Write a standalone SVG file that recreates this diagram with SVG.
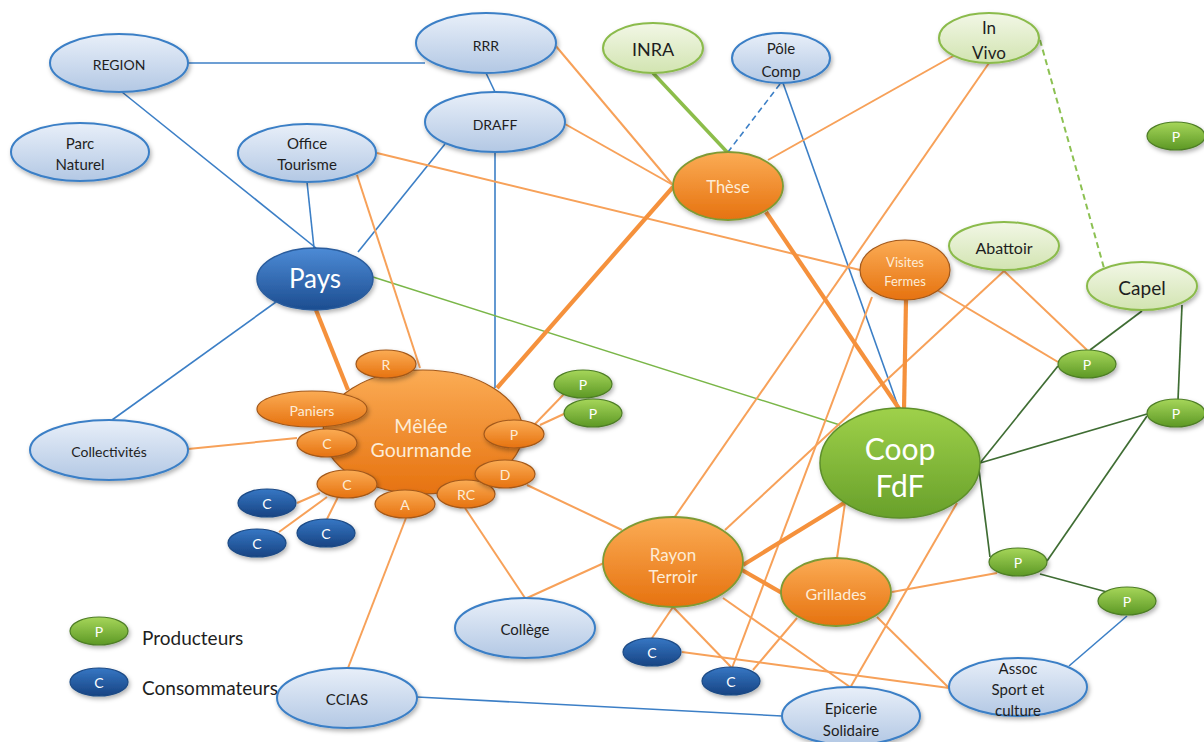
<svg xmlns="http://www.w3.org/2000/svg" width="1204" height="742" viewBox="0 0 1204 742">
<defs>
<linearGradient id="gBL" x1="0" y1="0" x2="0" y2="1"><stop offset="0" stop-color="#e8eff9"/><stop offset="1" stop-color="#b3c8e4"/></linearGradient>
<linearGradient id="gPays" x1="0" y1="0" x2="0" y2="1"><stop offset="0" stop-color="#4d8bd6"/><stop offset="1" stop-color="#1c4d90"/></linearGradient>
<linearGradient id="gC" x1="0" y1="0" x2="0" y2="1"><stop offset="0" stop-color="#3677c4"/><stop offset="1" stop-color="#174382"/></linearGradient>
<linearGradient id="gGL" x1="0" y1="0" x2="0" y2="1"><stop offset="0" stop-color="#f2f7e6"/><stop offset="1" stop-color="#d2e4b1"/></linearGradient>
<linearGradient id="gP" x1="0" y1="0" x2="0" y2="1"><stop offset="0" stop-color="#a6d65a"/><stop offset="1" stop-color="#5c9824"/></linearGradient>
<linearGradient id="gCoop" x1="0" y1="0" x2="0" y2="1"><stop offset="0" stop-color="#9fd14a"/><stop offset="1" stop-color="#68a02a"/></linearGradient>
<linearGradient id="gO" x1="0" y1="0" x2="0" y2="1"><stop offset="0" stop-color="#fbac55"/><stop offset="1" stop-color="#e6720f"/></linearGradient>
<filter id="sh" x="-20%" y="-20%" width="140%" height="150%"><feDropShadow dx="1.5" dy="2.5" stdDeviation="2" flood-color="#000" flood-opacity="0.3"/></filter>
<style>
text{font-family:Lato,"Open Sans","Liberation Sans",sans-serif;text-anchor:middle;dominant-baseline:central}
.bl{fill:url(#gBL);stroke:#3b7fc6;stroke-width:2;filter:url(#sh)}
.gl{fill:url(#gGL);stroke:#8bbb4c;stroke-width:2;filter:url(#sh)}
.pays{fill:url(#gPays);stroke:#2a5c9c;stroke-width:1.5;filter:url(#sh)}
.c{fill:url(#gC);stroke:#1c4a85;stroke-width:1.2;filter:url(#sh)}
.p{fill:url(#gP);stroke:#4d7d26;stroke-width:1.2;filter:url(#sh)}
.coop{fill:url(#gCoop);stroke:#5d8f2b;stroke-width:1.5;filter:url(#sh)}
.o{fill:url(#gO);stroke:#a2581a;stroke-width:1.2;filter:url(#sh)}
.og{fill:url(#gO);stroke:#7e9a34;stroke-width:1.8;filter:url(#sh)}
.dk{fill:#1e1e1e}
.wt{fill:#ffffff}
.cr{fill:#fdecd6}
.lb{stroke:#3c7fc6;stroke-width:1.6;fill:none}
.lo{stroke:#f7a159;stroke-width:2;fill:none}
.loT{stroke:#f5913c;stroke-width:4.2;fill:none}
.ldg{stroke:#3f6d33;stroke-width:1.7;fill:none}
</style>
</defs>
<rect width="1204" height="742" fill="#ffffff"/>

<g id="connectors">
<path class="lb" d="M188,63 L425,63"/>
<path class="lb" d="M122,92 L316,248"/>
<path class="lb" d="M307,182 L314,248"/>
<path class="lb" d="M445,144 L358,252"/>
<path class="lb" d="M486,73 L495,92"/>
<path class="lb" d="M495,152 L495,388"/>
<path class="lb" d="M276,302 L112,420"/>
<path class="lb" d="M783,83 L899,409"/>
<path class="lb" d="M417,697 L782,716"/>
<path class="lb" d="M1069,666 L1127,616"/>
<path class="lb" d="M780,84 L728,152" stroke-dasharray="6,4"/>
<path d="M653,73 L727,152" stroke="#8cbd4a" stroke-width="3.5" fill="none"/>
<path d="M373,277 L840,425" stroke="#7ab648" stroke-width="1.5" fill="none"/>
<path d="M1040,40 L1104,268" stroke="#8cc152" stroke-width="2" stroke-dasharray="6,4" fill="none"/>
<path class="ldg" d="M1142,311 L1090,350"/>
<path class="ldg" d="M1182,305 L1178,400"/>
<path class="ldg" d="M980,463 L1058,366"/>
<path class="ldg" d="M980,463 L1147,414"/>
<path class="ldg" d="M979,470 L990,557"/>
<path class="ldg" d="M1147,416 L1047,561"/>
<path class="ldg" d="M1040,574 L1107,592"/>
<path class="lo" d="M555,45 L673,185"/>
<path class="lo" d="M565,124 L673,185"/>
<path class="lo" d="M377,153 L860,270"/>
<path class="lo" d="M357,175 L420,368"/>
<path class="lo" d="M768,160 L955,55"/>
<path class="lo" d="M989,63 L674,518"/>
<path class="lo" d="M937,290 L1058,362"/>
<path class="lo" d="M1004,271 L1087,350"/>
<path class="lo" d="M1004,271 L725,530"/>
<path class="lo" d="M872,297 L732,668"/>
<path class="lo" d="M845,503 L837,558"/>
<path class="lo" d="M957,503 L850,688"/>
<path class="lo" d="M892,592 L997,573"/>
<path class="lo" d="M877,617 L949,688"/>
<path class="lo" d="M723,598 L850,687"/>
<path class="lo" d="M682,652 L949,688"/>
<path class="lo" d="M673,607 L652,638"/>
<path class="lo" d="M673,607 L731,667"/>
<path class="lo" d="M797,618 L753,670"/>
<path class="lo" d="M527,485 L622,530"/>
<path class="lo" d="M465,508 L525,598"/>
<path class="lo" d="M527,598 L604,563"/>
<path class="lo" d="M406,518 L348,668"/>
<path class="lo" d="M188,449 L297,438"/>
<path class="lo" d="M297,503 L320,493"/>
<path class="lo" d="M279,532 L327,497"/>
<path class="lo" d="M327,519 L338,497"/>
<path class="lo" d="M535,424 L564,394"/>
<path class="lo" d="M540,425 L566,413"/>
<path class="loT" d="M316,310 L348,390"/>
<path class="loT" d="M497,388 L673,187"/>
<path class="loT" d="M766,212 L900,410"/>
<path class="loT" d="M906,300 L904,410"/>
<path class="loT" d="M743,565 L844,503"/>
<path class="loT" d="M742,570 L782,593" stroke-width="3.5"/>
</g>

<g id="legend">
<g id="legend-p"><ellipse class="p" cx="99" cy="631" rx="29" ry="14"/><text class="wt" x="99" y="631" font-size="14">P</text></g>
<text class="dk" x="142" y="637" font-size="19" style="text-anchor:start">Producteurs</text>
<g id="legend-c"><ellipse class="c" cx="99" cy="682" rx="29" ry="14"/><text class="wt" x="99" y="682" font-size="14">C</text></g>
<text class="dk" x="142" y="687" font-size="19" style="text-anchor:start">Consommateurs</text>
</g>

<g id="region"><ellipse class="bl" cx="119" cy="63" rx="69" ry="29"/><text class="dk" x="119" y="64" font-size="14">REGION</text></g>
<g id="rrr"><ellipse class="bl" cx="486" cy="43" rx="70" ry="30"/><text class="dk" x="486" y="45" font-size="14">RRR</text></g>
<g id="draff"><ellipse class="bl" cx="495" cy="122" rx="70" ry="30"/><text class="dk" x="495" y="124" font-size="14">DRAFF</text></g>
<g id="parc"><ellipse class="bl" cx="80" cy="152" rx="69" ry="29"/><text class="dk" x="80" y="143" font-size="15">Parc</text><text class="dk" x="80" y="164" font-size="15">Naturel</text></g>
<g id="office"><ellipse class="bl" cx="307" cy="153" rx="69" ry="29"/><text class="dk" x="307" y="143" font-size="15">Office</text><text class="dk" x="307" y="164" font-size="15">Tourisme</text></g>
<g id="pole"><ellipse class="bl" cx="781" cy="58" rx="49" ry="25"/><text class="dk" x="781" y="48" font-size="15">Pôle</text><text class="dk" x="781" y="71" font-size="15">Comp</text></g>
<g id="collectivites"><ellipse class="bl" cx="109" cy="450" rx="79" ry="30"/><text class="dk" x="109" y="451" font-size="14">Collectivités</text></g>
<g id="college"><ellipse class="bl" cx="525" cy="628" rx="70" ry="30"/><text class="dk" x="525" y="629" font-size="15">Collège</text></g>
<g id="ccias"><ellipse class="bl" cx="347" cy="698" rx="70" ry="30"/><text class="dk" x="347" y="699" font-size="15">CCIAS</text></g>
<g id="epicerie"><ellipse class="bl" cx="851" cy="716" rx="69" ry="29"/><text class="dk" x="851" y="708" font-size="15">Epicerie</text><text class="dk" x="851" y="730" font-size="15">Solidaire</text></g>
<g id="assoc"><ellipse class="bl" cx="1018" cy="687" rx="69" ry="29"/><text class="dk" x="1018" y="668" font-size="15">Assoc</text><text class="dk" x="1018" y="689" font-size="15">Sport et</text><text class="dk" x="1018" y="710" font-size="15">culture</text></g>

<g id="inra"><ellipse class="gl" cx="653" cy="48" rx="50" ry="25"/><text class="dk" x="653" y="49" font-size="18">INRA</text></g>
<g id="invivo"><ellipse class="gl" cx="989" cy="38" rx="50" ry="25"/><text class="dk" x="989" y="27" font-size="17">In</text><text class="dk" x="989" y="52" font-size="17">Vivo</text></g>
<g id="abattoir"><ellipse class="gl" cx="1004" cy="246" rx="55" ry="24"/><text class="dk" x="1004" y="247" font-size="16">Abattoir</text></g>
<g id="capel"><ellipse class="gl" cx="1142" cy="286" rx="55" ry="24"/><text class="dk" x="1142" y="287" font-size="19">Capel</text></g>

<g id="pays"><ellipse class="pays" cx="315" cy="279" rx="58" ry="31"/><text class="wt" x="315" y="278" font-size="26">Pays</text></g>

<g id="these"><ellipse class="og" cx="728" cy="186" rx="55" ry="34"/><text class="cr" x="728" y="187" font-size="16.5">Thèse</text></g>
<g id="visites"><ellipse class="o" cx="905" cy="270" rx="45" ry="30"/><text class="cr" x="905" y="262" font-size="13">Visites</text><text class="cr" x="905" y="281" font-size="13">Fermes</text></g>

<g id="melee">
<ellipse class="o" cx="423" cy="432" rx="100" ry="62"/>
<text class="cr" x="421" y="425" font-size="19.5">Mêlée</text>
<text class="cr" x="421" y="449" font-size="19.5">Gourmande</text>
</g>
<g id="melee-r"><ellipse class="o" cx="386" cy="364" rx="30" ry="14"/><text class="cr" x="386" y="364" font-size="14">R</text></g>
<g id="melee-paniers"><ellipse class="o" cx="312" cy="409" rx="55" ry="18"/><text class="cr" x="312" y="410" font-size="14">Paniers</text></g>
<g id="melee-c1"><ellipse class="o" cx="327" cy="443" rx="30" ry="14"/><text class="cr" x="327" y="443" font-size="14">C</text></g>
<g id="melee-c2"><ellipse class="o" cx="347" cy="484" rx="30" ry="14"/><text class="cr" x="347" y="484" font-size="14">C</text></g>
<g id="melee-a"><ellipse class="o" cx="405" cy="504" rx="30" ry="14"/><text class="cr" x="405" y="504" font-size="14">A</text></g>
<g id="melee-rc"><ellipse class="o" cx="466" cy="494" rx="29" ry="14"/><text class="cr" x="466" y="494" font-size="14">RC</text></g>
<g id="melee-d"><ellipse class="o" cx="505" cy="474" rx="30" ry="14"/><text class="cr" x="505" y="474" font-size="14">D</text></g>
<g id="melee-p"><ellipse class="o" cx="514" cy="434" rx="30" ry="14"/><text class="cr" x="514" y="434" font-size="14">P</text></g>

<g id="rayon"><ellipse class="og" cx="673" cy="562" rx="70" ry="45"/><text class="cr" x="673" y="554" font-size="17">Rayon</text><text class="cr" x="673" y="576" font-size="17">Terroir</text></g>
<g id="grillades"><ellipse class="og" cx="836" cy="592" rx="55" ry="34"/><text class="cr" x="836" y="593" font-size="16">Grillades</text></g>

<g id="coop"><ellipse class="coop" cx="900" cy="463" rx="80" ry="55"/><text class="wt" x="900" y="448" font-size="30">Coop</text><text class="wt" x="900" y="485" font-size="30">FdF</text></g>

<g id="p1"><ellipse class="p" cx="1176" cy="136" rx="29" ry="14"/><text class="wt" x="1176" y="136" font-size="14">P</text></g>
<g id="p2"><ellipse class="p" cx="1087" cy="364" rx="29" ry="14"/><text class="wt" x="1087" y="364" font-size="14">P</text></g>
<g id="p3"><ellipse class="p" cx="1176" cy="413" rx="29" ry="14"/><text class="wt" x="1176" y="413" font-size="14">P</text></g>
<g id="p4"><ellipse class="p" cx="1018" cy="562" rx="29" ry="14"/><text class="wt" x="1018" y="562" font-size="14">P</text></g>
<g id="p5"><ellipse class="p" cx="1127" cy="601" rx="29" ry="14"/><text class="wt" x="1127" y="601" font-size="14">P</text></g>
<g id="p6"><ellipse class="p" cx="583" cy="384" rx="29" ry="14"/><text class="wt" x="583" y="384" font-size="14">P</text></g>
<g id="p7"><ellipse class="p" cx="593" cy="413" rx="29" ry="14"/><text class="wt" x="593" y="413" font-size="14">P</text></g>

<g id="c1"><ellipse class="c" cx="267" cy="503" rx="29" ry="14"/><text class="wt" x="267" y="503" font-size="14">C</text></g>
<g id="c2"><ellipse class="c" cx="257" cy="543" rx="29" ry="14"/><text class="wt" x="257" y="543" font-size="14">C</text></g>
<g id="c3"><ellipse class="c" cx="326" cy="533" rx="29" ry="14"/><text class="wt" x="326" y="533" font-size="14">C</text></g>
<g id="c4"><ellipse class="c" cx="652" cy="652" rx="29" ry="14"/><text class="wt" x="652" y="652" font-size="14">C</text></g>
<g id="c5"><ellipse class="c" cx="731" cy="681" rx="29" ry="14"/><text class="wt" x="731" y="681" font-size="14">C</text></g>
</svg>
